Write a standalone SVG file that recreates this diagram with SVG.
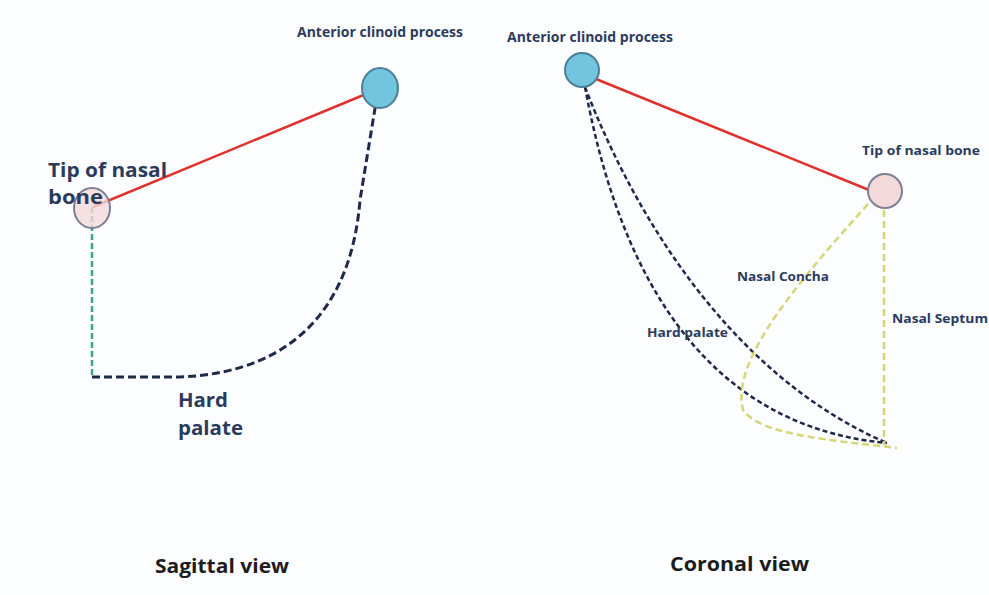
<svg xmlns="http://www.w3.org/2000/svg" width="989" height="595" viewBox="0 0 989 595">
<style>
.lbl{font-family:"Open Sans","Liberation Sans",sans-serif;font-weight:bold;fill:#2b3b5c}
.ttl{font-family:"Open Sans","Liberation Sans",sans-serif;font-weight:bold;fill:#1c1c1c}
.red{stroke:#e0302c;stroke-width:2.5;fill:none}
.navy{stroke:#1e2a4a;stroke-width:3;fill:none;stroke-dasharray:8 4}
.navy2{stroke:#1e2a4a;stroke-width:2.5;fill:none;stroke-dasharray:5 3}
.green{stroke:#3aa878;stroke-width:2.5;fill:none;stroke-dasharray:6 3}
.yellow{stroke:#d6d676;stroke-width:2.5;fill:none;stroke-dasharray:7 4}
.blue{fill:#72c4df;stroke:#4d7f96;stroke-width:2}
.pink{fill:#f4d9db;stroke:#7c7f95;stroke-width:2}
</style>
<rect width="989" height="595" fill="#fcfdfe"/>
<g id="connectors">
<line class="red" x1="378" y1="89" x2="93" y2="207"/>
<line class="green" x1="92" y1="207" x2="92" y2="377"/>
<path class="navy" d="M92,377 L180,377 C300,372 352,300 360,200 L378,90"/>
<line class="red" x1="596" y1="79" x2="869" y2="190"/>
<path class="navy2" d="M585,87 C615,250 690,425 887,443"/>
<path class="navy2" d="M585,87 C640,230 740,380 887,443"/>
<path class="yellow" d="M868,204 C800,280 730,360 743,410 C760,435 830,440 897,448"/>
<line class="yellow" x1="884" y1="210" x2="884" y2="445"/>
</g>
<g id="sag-anterior-clinoid">
<ellipse class="blue" cx="380" cy="88" rx="18" ry="20"/>
<text class="lbl" x="297" y="37" font-size="14" textLength="166" lengthAdjust="spacingAndGlyphs">Anterior clinoid process</text>
</g>
<g id="sag-tip-nasal">
<ellipse class="pink" cx="92" cy="208" rx="18" ry="20" fill-opacity="0.8"/>
<text class="lbl" x="48" y="177" font-size="20" textLength="119" lengthAdjust="spacingAndGlyphs">Tip of nasal</text>
<text class="lbl" x="48" y="204" font-size="20" textLength="55" lengthAdjust="spacingAndGlyphs">bone</text>
</g>
<g id="sag-hard-palate">
<text class="lbl" x="178" y="407" font-size="20" textLength="50" lengthAdjust="spacingAndGlyphs">Hard</text>
<text class="lbl" x="178" y="435" font-size="20" textLength="65" lengthAdjust="spacingAndGlyphs">palate</text>
</g>
<g id="cor-anterior-clinoid">
<circle class="blue" cx="582" cy="70" r="17"/>
<text class="lbl" x="507" y="42" font-size="14" textLength="166" lengthAdjust="spacingAndGlyphs">Anterior clinoid process</text>
</g>
<g id="cor-tip-nasal">
<circle class="pink" cx="885" cy="191" r="17"/>
<text class="lbl" x="862" y="155" font-size="13" textLength="118" lengthAdjust="spacingAndGlyphs">Tip of nasal bone</text>
</g>
<g id="cor-labels">
<text class="lbl" x="737" y="281" font-size="13" textLength="92" lengthAdjust="spacingAndGlyphs">Nasal Concha</text>
<text class="lbl" x="892" y="323" font-size="13" textLength="96" lengthAdjust="spacingAndGlyphs">Nasal Septum</text>
<text class="lbl" x="647" y="337" font-size="13" textLength="81" lengthAdjust="spacingAndGlyphs">Hard palate</text>
</g>
<g id="titles">
<text class="ttl" x="155" y="573" font-size="20" textLength="134" lengthAdjust="spacingAndGlyphs">Sagittal view</text>
<text class="ttl" x="670" y="571" font-size="20" textLength="139" lengthAdjust="spacingAndGlyphs">Coronal view</text>
</g>
</svg>
